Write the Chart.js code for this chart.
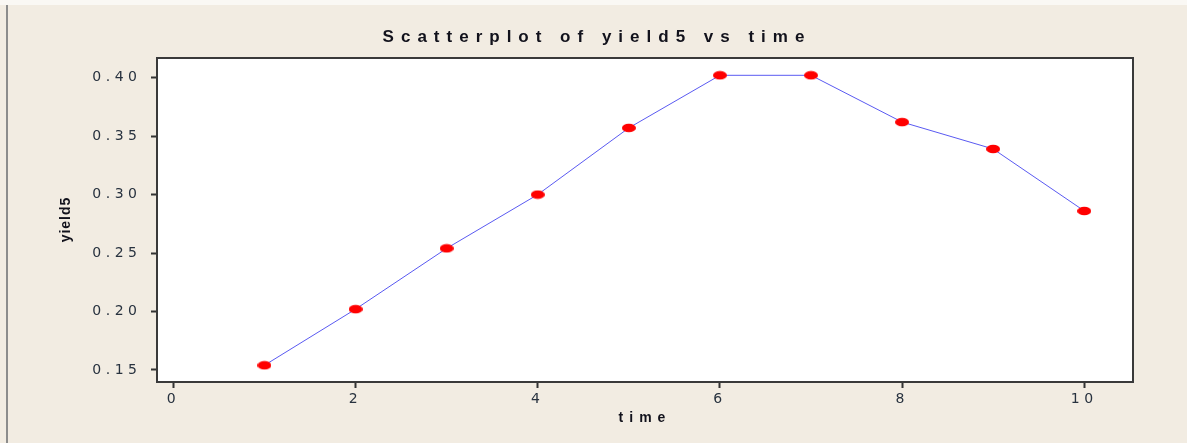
<!DOCTYPE html>
<html>
<head>
<meta charset="utf-8">
<title>Scatterplot of yield5 vs time</title>
<script src="https://cdn.jsdelivr.net/npm/chart.js@4/dist/chart.umd.min.js"></script>
<style>
  html, body { margin: 0; padding: 0; }
  body { width: 1187px; height: 443px; background: #f2ece2; position: relative; overflow: hidden; }
  #topStrip { position: absolute; left: 0; top: 0; width: 1187px; height: 5px; background: #faf8f4; }
  #frameLine { position: absolute; left: 6px; top: 5px; width: 2px; height: 438px; background: #8c8c8c; }
  #wrap { position: absolute; left: 0; top: 0; width: 1187px; height: 443px; }
</style>
</head>
<body>
<div id="topStrip"></div>
<div id="frameLine"></div>
<div id="wrap"><canvas id="yieldChart"></canvas></div>
<script>
// yield5 measured at each time step
const timeValues = [1, 2, 3, 4, 5, 6, 7, 8, 9, 10];
const yield5Values = [0.154, 0.202, 0.254, 0.300, 0.357, 0.402, 0.402, 0.362, 0.339, 0.286];
const xTickValues = [0, 2, 4, 6, 8, 10];
const yTickValues = [0.15, 0.20, 0.25, 0.30, 0.35, 0.40];

const chartTitle = 'Scatterplot of yield5 vs time';
const xTitle = 'time';
const yTitle = 'yield5';

// red oval marker used for every point
const marker = document.createElement('canvas');
marker.width = 14;
marker.height = 10;
const mctx = marker.getContext('2d');
mctx.fillStyle = '#ff0000';
mctx.beginPath();
mctx.ellipse(7, 5, 7, 4.3, 0, 0, Math.PI * 2);
mctx.fill();

// white plot box with a dark frame, spaced-out titles
const plotFrame = {
  id: 'plotFrame',
  beforeDraw(chart) {
    const { ctx, chartArea: a } = chart;
    ctx.save();
    ctx.fillStyle = '#ffffff';
    ctx.fillRect(a.left, a.top, a.right - a.left, a.bottom - a.top);
    ctx.restore();
    ctx.letterSpacing = '4.5px'; // tick labels are drawn spread out
  },
  beforeDatasetsDraw(chart) {
    const { ctx, chartArea: a } = chart;
    ctx.save();
    ctx.strokeStyle = '#3a3a3a';
    ctx.lineWidth = 2;
    ctx.strokeRect(a.left, a.top, a.right - a.left, a.bottom - a.top);
    ctx.restore();
  },
  afterDraw(chart) {
    const { ctx, chartArea: a } = chart;
    ctx.save();
    ctx.fillStyle = '#12121c';
    ctx.textAlign = 'center';
    ctx.textBaseline = 'middle';

    ctx.font = 'bold 17px "Liberation Sans"';
    ctx.letterSpacing = '7px';
    ctx.fillText(chartTitle, chart.width / 2 + 3.5, 37);

    ctx.font = 'bold 14px "Liberation Sans"';
    ctx.letterSpacing = '6px';
    ctx.fillText(xTitle, (a.left + a.right) / 2, 418);

    ctx.letterSpacing = '1px';
    ctx.translate(66, (a.top + a.bottom) / 2);
    ctx.rotate(-Math.PI / 2);
    ctx.fillText(yTitle, 0.5, 0);
    ctx.restore();
  }
};

const tickFont = { family: 'DejaVu Sans', size: 14 };
const tickColor = '#28323f';

const ctx = document.getElementById('yieldChart').getContext('2d');
const yieldChart = new Chart(ctx, {
  type: 'scatter',
  data: {
    datasets: [{
      label: yTitle,
      data: timeValues.map((t, i) => ({ x: t, y: yield5Values[i] })),
      showLine: true,
      borderColor: '#5a5af2',
      borderWidth: 1,
      pointStyle: marker,
      pointRadius: 7,
      pointHoverRadius: 7
    }]
  },
  options: {
    responsive: true,
    maintainAspectRatio: false,
    animation: false,
    layout: { padding: { top: 58, right: 54, left: 0, bottom: 0 } },
    plugins: {
      legend: { display: false },
      title: { display: false },
      tooltip: { enabled: false }
    },
    scales: {
      x: {
        type: 'linear',
        min: -0.18,
        max: 10.535,
        afterBuildTicks: (scale) => { scale.ticks = xTickValues.map(v => ({ value: v })); },
        afterFit: (scale) => { scale.height = 61; },
        border: { display: false },
        grid: {
          drawOnChartArea: false,
          drawTicks: true,
          tickLength: 6,
          tickWidth: 2,
          tickColor: '#333333'
        },
        ticks: {
          font: tickFont,
          color: tickColor,
          padding: 3,
          maxRotation: 0,
          callback: (v) => String(v)
        }
      },
      y: {
        type: 'linear',
        min: 0.1397,
        max: 0.4168,
        afterBuildTicks: (scale) => { scale.ticks = yTickValues.map(v => ({ value: v })); },
        afterFit: (scale) => { scale.width = 157; },
        border: { display: false },
        grid: {
          drawOnChartArea: false,
          drawTicks: true,
          tickLength: 6,
          tickWidth: 2,
          tickColor: '#333333'
        },
        ticks: {
          font: tickFont,
          color: tickColor,
          padding: 9.5,
          callback: (v) => v.toFixed(2)
        }
      }
    }
  },
  plugins: [plotFrame]
});
</script>
</body>
</html>
